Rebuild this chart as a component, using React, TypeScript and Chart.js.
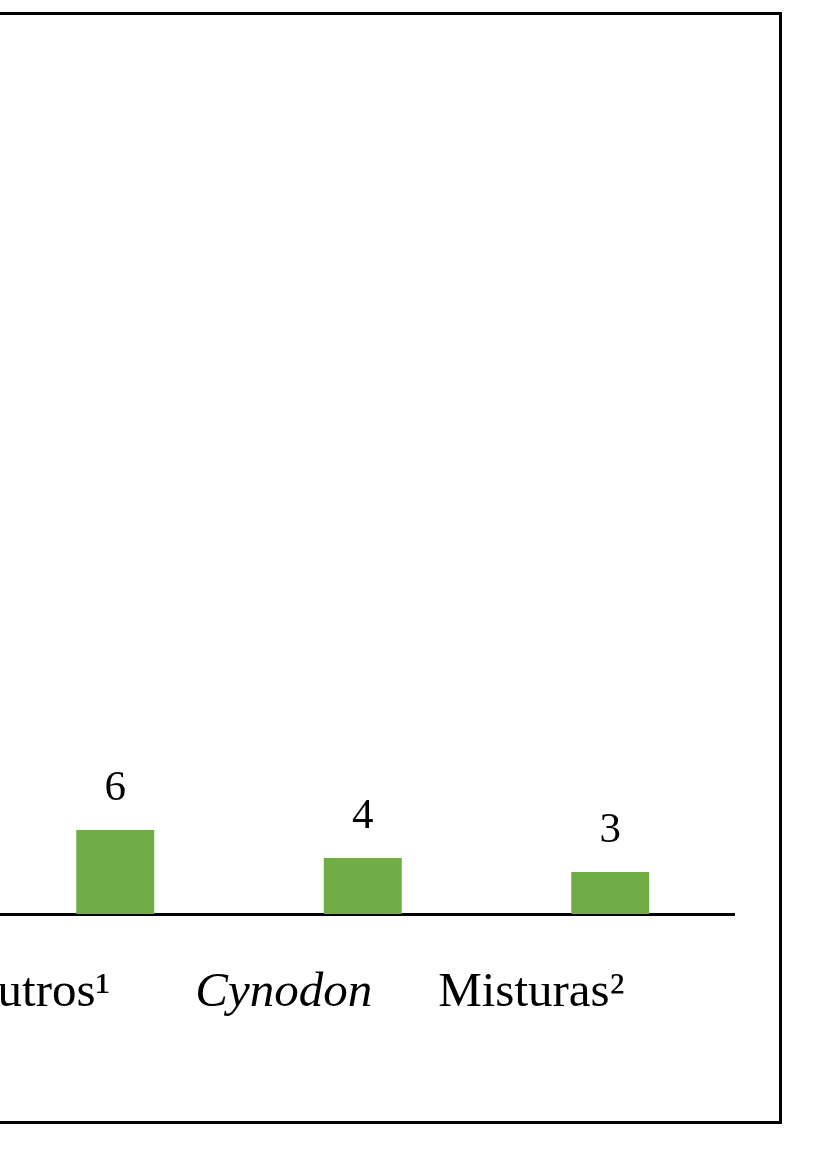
import React, { useEffect, useRef } from "react";
import { Chart, registerables } from "chart.js";

Chart.register(...registerables);

// ---- data ----
const categories = ["Outros¹", "Cynodon", "Misturas²"];
const values = [6, 4, 3];
const italicCategories = ["Cynodon"];
const yMin = 0;
const yMax = 60;

const SERIF = '"Liberation Serif", "Times New Roman", serif';

const valueLabels = {
  id: "valueLabels",
  afterDatasetsDraw(chart: any) {
    const ctx = chart.ctx;
    const meta = chart.getDatasetMeta(0);
    ctx.save();
    ctx.font = `43px ${SERIF}`;
    ctx.fillStyle = "#000";
    ctx.textAlign = "center";
    ctx.textBaseline = "alphabetic";
    meta.data.forEach((bar: any, i: number) => {
      const v = chart.data.datasets[0].data[i];
      ctx.fillText(String(v), bar.x, bar.y - 30);
    });
    ctx.restore();
  },
};

export default function App() {
  const ref = useRef<HTMLCanvasElement | null>(null);

  useEffect(() => {
    if (!ref.current) return;
    const chart = new Chart(ref.current, {
      type: "bar",
      data: {
        labels: categories,
        datasets: [
          {
            data: values,
            backgroundColor: "#70AD47",
            borderWidth: 0,
            categoryPercentage: 1,
            barPercentage: 0.315,
          },
        ],
      },
      options: {
        responsive: false,
        animation: false,
        events: [],
        layout: { padding: { left: 291.5, right: 66, top: 74, bottom: 122 } },
        plugins: {
          legend: { display: false },
          tooltip: { enabled: false },
          title: { display: false },
        },
        scales: {
          x: {
            type: "category",
            offset: true,
            z: 1,
            grid: { display: false, drawTicks: false },
            border: { display: true, color: "#000", width: 3 },
            afterFit: (scale: any) => {
              scale.height = 120;
            },
            ticks: {
              color: "#000",
              padding: 50,
              maxRotation: 0,
              minRotation: 0,
              autoSkip: false,
              labelOffset: -79,
              font: (ctx: any) => ({
                family: SERIF,
                size: 49,
                style: italicCategories.includes(categories[ctx.index]) ? "italic" : "normal",
              }),
            },
          },
          y: {
            display: false,
            min: yMin,
            max: yMax,
          },
        },
      },
      plugins: [valueLabels],
    });
    return () => chart.destroy();
  }, []);

  return (
    <div
      style={{
        position: "fixed",
        left: 0,
        top: 0,
        width: 837,
        height: 1156,
        overflow: "hidden",
        background: "#fff",
      }}
    >
      <div
        style={{
          position: "absolute",
          left: -60,
          top: 12,
          width: 842,
          height: 1112,
          border: "3px solid #000",
          boxSizing: "border-box",
        }}
      />
      <div style={{ position: "absolute", left: -300, top: 0, width: 1100, height: 1156 }}>
        <canvas ref={ref} width={1100} height={1156} style={{ display: "block" }} />
      </div>
    </div>
  );
}
